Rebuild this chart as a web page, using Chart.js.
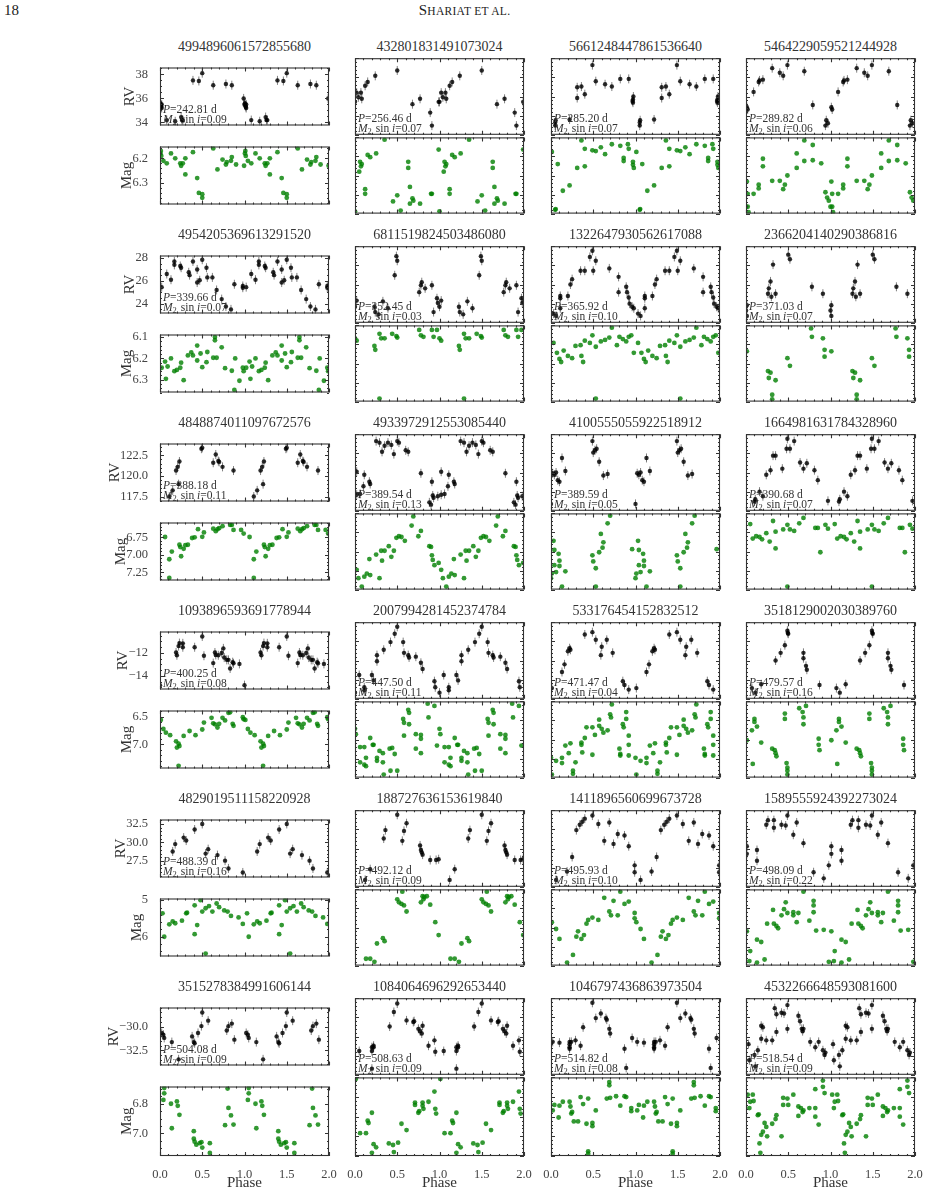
<!DOCTYPE html>
<html><head><meta charset="utf-8">
<script src="https://cdn.jsdelivr.net/npm/chart.js@4.4.1/dist/chart.umd.min.js"></script>
<style>
body{margin:0;background:#fff;width:929px;height:1191px;position:relative;overflow:hidden;font-family:"Liberation Serif","DejaVu Serif",serif;color:#222}
canvas{position:absolute}
.t{position:absolute;font-size:14px;text-align:center;width:200px;color:#333;white-space:nowrap}
</style></head><body>
<div style="position:absolute;left:4px;top:2px;font-size:15px">18</div>
<div style="position:absolute;left:0;width:929px;top:2px;text-align:center;font-size:15px;letter-spacing:0.3px">S<span style="font-size:11.5px">HARIAT ET AL.</span></div>
<script>
// ---------- data: [phase, value]; left column in physical units, other columns in relative height (0-10) ----------
const titles=["4994896061572855680","432801831491073024","5661248447861536640","5464229059521244928",
"4954205369613291520","6811519824503486080","1322647930562617088","2366204140290386816",
"4848874011097672576","4933972912553085440","4100555055922518912","1664981631784328960",
"1093896593691778944","2007994281452374784","533176454152832512","3518129002030389760",
"4829019511158220928","188727636153619840","1411896560699673728","1589555924392273024",
"3515278384991606144","1084064696292653440","1046797436863973504","4532266648593081600"];
const periods=["242.81","256.46","285.20","289.82","339.66","352.45","365.92","371.03","388.18","389.54","389.59","390.68",
"400.25","447.50","471.47","479.57","488.39","492.12","495.93","498.09","504.08","508.63","514.82","518.54"];
const msini=["0.09","0.07","0.07","0.06","0.07","0.03","0.10","0.07","0.11","0.13","0.05","0.07",
"0.08","0.11","0.04","0.16","0.16","0.09","0.10","0.22","0.09","0.09","0.08","0.09"];

const rv1=[[0.0,35.5],[0.005,35.6],[0.01,35.4],[0.02,35.5],[0.015,35.3],[0.02,35.2],[0.08,34.2],[0.18,34.1],[0.25,34.45],[0.26,34.2],[0.27,34.2],[0.39,37.5],[0.46,37.45],[0.5,38.1],[0.63,37.1],[0.78,37.2],[0.85,37.1],[0.99,36.0]];
const mag1=[[0.01,6.17],[0.005,6.18],[0.015,6.19],[0.04,6.21],[0.08,6.22],[0.13,6.18],[0.18,6.2],[0.24,6.22],[0.25,6.23],[0.27,6.22],[0.3,6.2],[0.3,6.265],[0.39,6.175],[0.44,6.28],[0.46,6.34],[0.5,6.345],[0.5,6.36],[0.63,6.16],[0.68,6.245],[0.74,6.205],[0.78,6.225],[0.79,6.215],[0.84,6.21],[0.85,6.195],[0.9,6.225],[0.995,6.23]];
const rv2=[[0.0,4.3],[0.02,5.5],[0.04,4.9],[0.07,5.5],[0.08,4.7],[0.12,6.4],[0.15,6.9],[0.24,7.7],[0.5,8.4],[0.68,4.0],[0.77,4.7],[0.89,2.9],[0.91,1.2],[0.99,4.3]];
const mag2=[[0.0,0.3],[0.06,6.8],[0.07,6.2],[0.05,5.5],[0.08,6.5],[0.12,3.2],[0.12,2.6],[0.15,7.7],[0.18,7.4],[0.25,7.9],[0.35,9.7],[0.45,1.6],[0.5,2.4],[0.54,0.4],[0.63,6.8],[0.63,6.0],[0.65,3.5],[0.68,2.0],[0.69,1.7],[0.65,1.3],[0.77,1.3],[0.9,2.6],[0.91,2.6],[0.99,8.4]];
const rv3=[[0.31,4.8],[0.31,6.2],[0.36,6.3],[0.4,5.3],[0.49,9.1],[0.53,7.0],[0.64,6.6],[0.72,6.3],[0.82,7.3],[0.92,7.3],[0.97,4.2],[0.97,4.6],[0.975,5.0],[0.965,4.4],[0.05,1.2],[0.05,1.6],[0.055,1.9],[0.22,2.0]];
const mag3=[[0.01,8.1],[0.08,6.5],[0.14,3.0],[0.22,3.7],[0.05,0.5],[0.055,0.6],[0.31,6.0],[0.36,9.6],[0.4,6.2],[0.4,8.5],[0.49,8.3],[0.53,8.2],[0.59,8.7],[0.64,7.8],[0.72,9.1],[0.82,8.9],[0.86,7.3],[0.86,6.9],[0.91,9.1],[0.92,8.5],[0.97,6.8],[0.97,6.4],[0.98,6.0]];
const rv4=[[0.01,3.6],[0.02,3.3],[0.09,5.6],[0.15,6.9],[0.16,7.1],[0.2,7.2],[0.31,8.7],[0.4,8.1],[0.44,7.7],[0.49,9.1],[0.69,8.3],[0.79,3.9],[0.94,1.2],[0.95,1.9],[0.97,1.5]];
const mag4=[[0.0,0.9],[0.01,4.2],[0.02,2.6],[0.02,0.9],[0.03,0.2],[0.09,2.6],[0.15,3.8],[0.15,3.3],[0.2,7.2],[0.2,6.2],[0.31,4.3],[0.4,4.3],[0.44,3.2],[0.46,3.8],[0.49,5.0],[0.6,7.9],[0.6,6.0],[0.69,6.9],[0.69,9.6],[0.79,9.0],[0.79,7.0],[0.89,6.6],[0.94,2.8],[0.96,2.1],[0.98,1.7]];
const rv5=[[0.02,25.45],[0.08,26.6],[0.13,26.1],[0.17,27.7],[0.17,27.4],[0.24,27.3],[0.25,27.15],[0.34,26.75],[0.35,26.5],[0.39,27.7],[0.44,27.0],[0.44,25.85],[0.47,26.05],[0.5,27.85],[0.55,27.15],[0.56,26.3],[0.62,26.3],[0.67,25.2],[0.73,24.4],[0.78,23.75],[0.84,23.5],[0.88,25.7],[0.98,25.4],[0.98,25.55]];
const mag5=[[0.02,6.244],[0.06,6.215],[0.07,6.296],[0.09,6.238],[0.13,6.2],[0.17,6.26],[0.2,6.254],[0.24,6.244],[0.25,6.22],[0.28,6.302],[0.33,6.186],[0.37,6.172],[0.39,6.186],[0.44,6.14],[0.44,6.21],[0.48,6.177],[0.5,6.241],[0.55,6.218],[0.56,6.17],[0.63,6.197],[0.65,6.1],[0.65,6.115],[0.67,6.197],[0.73,6.148],[0.77,6.246],[0.85,6.258],[0.88,6.348],[0.89,6.2],[0.94,6.305],[0.98,6.244],[0.99,6.26]];
const rv6=[[0.0,2.1],[0.02,2.9],[0.23,2.1],[0.24,1.4],[0.28,1.1],[0.33,2.8],[0.39,1.9],[0.47,6.2],[0.49,8.7],[0.5,8.1],[0.76,4.0],[0.78,4.9],[0.79,5.3],[0.83,4.5],[0.91,4.9],[0.93,1.4],[0.97,3.2],[0.98,2.6]];
const mag6=[[0.0,8.3],[0.02,8.0],[0.23,7.3],[0.24,6.8],[0.29,8.9],[0.31,8.3],[0.35,8.3],[0.44,8.9],[0.49,8.6],[0.5,8.4],[0.29,0.4],[0.76,9.4],[0.78,8.7],[0.81,8.5],[0.91,9.4],[0.93,8.5],[0.97,9.4]];
const rv7=[[0.11,3.5],[0.2,3.5],[0.23,5.0],[0.25,5.7],[0.35,6.8],[0.4,6.8],[0.46,8.6],[0.49,9.4],[0.5,6.8],[0.53,8.1],[0.69,7.1],[0.8,6.0],[0.8,4.0],[0.89,4.7],[0.9,4.0],[0.92,3.3],[0.93,2.5],[0.96,2.1],[0.98,1.9],[0.03,1.2],[0.06,0.9],[0.11,3.2],[0.11,1.9]];
const mag7=[[0.03,7.7],[0.07,6.4],[0.1,5.6],[0.12,5.2],[0.15,6.7],[0.2,6.0],[0.25,5.7],[0.29,7.3],[0.35,7.4],[0.36,6.0],[0.38,5.2],[0.4,8.0],[0.46,7.7],[0.49,8.7],[0.53,7.2],[0.53,0.4],[0.59,7.9],[0.64,8.1],[0.69,8.4],[0.72,9.7],[0.78,7.4],[0.81,8.5],[0.85,8.2],[0.89,7.9],[0.92,8.5],[0.95,8.7],[0.98,6.4]];
const rv8=[[0.26,3.8],[0.27,4.5],[0.29,5.4],[0.3,3.4],[0.32,7.6],[0.35,3.8],[0.5,8.9],[0.52,8.3],[0.78,4.7],[0.91,3.8],[0.01,2.3],[0.01,0.9],[0.0,1.6]];
const mag8=[[0.01,6.6],[0.26,4.0],[0.29,3.8],[0.27,3.1],[0.35,2.8],[0.31,0.9],[0.31,0.3],[0.49,5.7],[0.52,4.7],[0.77,9.6],[0.78,8.5],[0.91,8.3],[0.93,6.8],[0.93,5.9]];
const rv9=[[0.19,120.65],[0.21,121.1],[0.23,121.75],[0.49,123.3],[0.5,123.4],[0.63,121.6],[0.66,122.6],[0.69,121.8],[0.7,121.7],[0.74,121.1],[0.87,120.65],[0.11,117.5],[0.15,118.25],[0.22,119.0]];
const mag9=[[0.06,6.746],[0.11,7.063],[0.14,6.954],[0.11,7.33],[0.23,6.856],[0.24,6.89],[0.25,7.02],[0.28,6.915],[0.3,6.863],[0.33,6.856],[0.38,6.76],[0.41,6.75],[0.45,6.634],[0.5,6.743],[0.52,6.68],[0.63,6.627],[0.66,6.662],[0.68,6.634],[0.7,6.62],[0.74,6.592],[0.83,6.574],[0.85,6.574],[0.87,6.645],[0.96,6.645],[0.99,6.697]];
const rv10=[[0.02,5.1],[0.11,4.7],[0.17,3.8],[0.18,3.5],[0.25,9.1],[0.29,8.9],[0.32,7.7],[0.35,8.5],[0.39,8.9],[0.43,8.6],[0.46,7.4],[0.5,9.1],[0.52,8.9],[0.6,7.9],[0.63,7.7],[0.78,4.9],[0.88,1.1],[0.9,0.8],[0.91,3.8],[0.92,2.0],[0.93,1.7],[0.98,1.9],[0.02,2.1],[0.06,2.2],[0.1,3.2]];
const mag10=[[0.02,2.6],[0.04,1.5],[0.08,0.4],[0.11,1.7],[0.14,2.1],[0.17,4.0],[0.18,1.9],[0.25,4.6],[0.29,1.5],[0.31,5.1],[0.32,3.8],[0.35,5.1],[0.4,5.7],[0.43,4.3],[0.46,5.1],[0.49,6.8],[0.52,7.0],[0.55,6.9],[0.59,6.4],[0.67,8.4],[0.69,9.6],[0.75,7.0],[0.78,7.7],[0.88,5.7],[0.9,5.6],[0.91,4.5],[0.92,3.9],[0.94,3.2],[0.99,3.5]];
const rv11=[[0.0,0.9],[0.02,4.9],[0.04,4.7],[0.06,5.0],[0.08,4.0],[0.1,3.8],[0.13,6.9],[0.17,5.2],[0.49,9.1],[0.5,7.6],[0.52,7.9],[0.54,8.1],[0.57,6.4],[0.62,4.6],[0.67,4.8]];
const mag11=[[0.0,1.5],[0.01,2.1],[0.03,6.4],[0.04,5.2],[0.04,3.2],[0.06,2.3],[0.09,4.7],[0.1,3.8],[0.1,3.1],[0.13,0.4],[0.17,2.4],[0.49,4.5],[0.5,3.7],[0.53,2.8],[0.53,0.4],[0.57,4.9],[0.59,7.3],[0.61,5.5],[0.62,6.2],[0.67,8.7],[0.7,9.7],[0.96,5.3]];
const rv12=[[0.24,4.7],[0.29,5.3],[0.32,7.2],[0.35,7.2],[0.43,5.5],[0.48,8.1],[0.49,9.4],[0.52,8.1],[0.57,9.1],[0.64,6.3],[0.68,5.5],[0.72,6.2],[0.81,5.3],[0.85,4.0],[0.97,1.3],[0.1,1.2],[0.11,1.5],[0.16,2.5],[0.2,1.9]];
const mag12=[[0.05,8.6],[0.08,6.7],[0.12,7.0],[0.16,6.9],[0.19,6.6],[0.24,7.4],[0.28,6.3],[0.32,9.0],[0.35,5.4],[0.35,7.6],[0.44,7.9],[0.49,8.5],[0.49,0.4],[0.52,7.9],[0.57,7.7],[0.63,8.7],[0.68,9.4],[0.82,8.1],[0.85,8.1],[0.88,4.9],[0.94,8.5],[0.97,8.0]];
const rv13=[[0.19,-11.96],[0.2,-12.2],[0.22,-11.4],[0.23,-11.14],[0.27,-11.16],[0.27,-11.5],[0.41,-11.5],[0.5,-10.56],[0.52,-12.24],[0.63,-12.88],[0.65,-11.96],[0.66,-12.17],[0.69,-12.2],[0.73,-12.0],[0.75,-11.6],[0.76,-12.4],[0.79,-12.6],[0.81,-12.6],[0.83,-13.35],[0.86,-12.8],[0.87,-12.9],[0.94,-12.95],[0.0,-14.8]];
const mag13=[[0.01,6.558],[0.04,6.723],[0.07,6.79],[0.12,6.835],[0.19,6.946],[0.2,7.058],[0.22,6.99],[0.23,7.03],[0.22,7.39],[0.28,6.848],[0.35,6.759],[0.42,6.835],[0.5,6.732],[0.52,6.607],[0.61,6.52],[0.63,6.62],[0.65,6.638],[0.68,6.696],[0.7,6.629],[0.74,6.52],[0.77,6.567],[0.81,6.43],[0.83,6.42],[0.86,6.629],[0.87,6.665],[0.98,6.51],[0.99,6.545]];
const rv14=[[0.26,5.7],[0.26,4.9],[0.34,6.4],[0.42,7.4],[0.47,8.5],[0.5,9.4],[0.57,7.4],[0.58,6.0],[0.63,5.7],[0.64,5.4],[0.72,5.5],[0.78,4.7],[0.8,3.9],[0.94,2.3],[0.95,1.5],[0.0,0.8],[0.05,3.1],[0.11,1.5],[0.11,1.1],[0.2,3.1],[0.22,2.4]];
const mag14=[[0.01,5.7],[0.06,4.0],[0.06,2.0],[0.11,4.0],[0.11,1.7],[0.13,1.5],[0.13,2.6],[0.18,5.2],[0.21,4.3],[0.22,4.3],[0.26,2.6],[0.26,2.2],[0.29,3.5],[0.33,3.2],[0.33,2.0],[0.34,0.4],[0.41,3.8],[0.42,0.9],[0.44,3.9],[0.47,3.1],[0.5,0.9],[0.57,7.7],[0.58,7.2],[0.58,5.5],[0.63,8.9],[0.64,8.5],[0.64,7.0],[0.72,5.7],[0.72,3.8],[0.78,5.6],[0.78,5.1],[0.78,3.2],[0.86,9.7],[0.87,7.9],[0.94,9.4],[0.97,4.2],[0.0,6.4]];
const rv15=[[0.13,3.5],[0.16,4.5],[0.2,6.2],[0.22,6.6],[0.23,6.4],[0.4,8.4],[0.49,8.7],[0.53,7.7],[0.59,5.7],[0.6,6.8],[0.66,7.7],[0.73,6.0],[0.85,2.3],[0.87,1.8],[0.92,1.2],[0.01,1.4]];
const mag15=[[0.0,2.6],[0.01,0.4],[0.06,2.2],[0.13,2.6],[0.13,1.9],[0.17,4.2],[0.21,3.2],[0.23,4.5],[0.26,0.9],[0.26,0.5],[0.29,2.0],[0.36,4.6],[0.36,4.3],[0.37,3.3],[0.4,5.2],[0.42,6.6],[0.49,3.0],[0.49,6.6],[0.52,5.6],[0.57,7.6],[0.57,6.8],[0.6,6.4],[0.62,5.9],[0.67,6.2],[0.7,8.3],[0.71,7.9],[0.72,9.6],[0.81,3.8],[0.82,3.1],[0.82,2.9],[0.85,7.0],[0.86,6.6],[0.89,8.6],[0.89,7.7],[0.92,5.5],[0.92,4.3],[0.92,2.9]];
const rv16=[[0.35,5.0],[0.41,6.0],[0.46,7.0],[0.49,8.9],[0.495,8.6],[0.5,8.5],[0.68,6.0],[0.68,5.3],[0.71,4.3],[0.72,3.8],[0.87,1.8],[0.07,1.4],[0.11,0.8],[0.18,1.9]];
const mag16=[[0.01,4.9],[0.07,6.2],[0.1,7.7],[0.1,7.3],[0.13,6.7],[0.08,1.8],[0.18,4.6],[0.31,3.8],[0.34,3.6],[0.35,3.2],[0.36,2.8],[0.46,8.4],[0.46,7.7],[0.48,1.9],[0.49,1.3],[0.49,0.4],[0.49,0.9],[0.63,9.1],[0.67,8.6],[0.68,7.9],[0.68,7.0],[0.71,9.4],[0.86,5.1],[0.86,4.3],[0.87,3.6]];
const rv17=[[0.15,28.79],[0.18,29.78],[0.28,30.66],[0.31,30.26],[0.41,31.75],[0.5,32.5],[0.54,28.5],[0.57,29.1],[0.68,28.3],[0.77,27.55],[0.81,26.5],[0.98,25.96]];
const mag17=[[0.03,5.36],[0.05,6.0],[0.11,5.66],[0.15,5.58],[0.18,5.63],[0.26,5.56],[0.31,5.36],[0.32,5.34],[0.41,5.14],[0.41,5.93],[0.44,5.68],[0.48,5.0],[0.5,5.31],[0.54,6.46],[0.54,5.22],[0.58,5.16],[0.62,5.31],[0.67,5.09],[0.7,5.19],[0.76,5.28],[0.8,5.31],[0.84,5.43],[0.93,5.47],[0.98,5.65]];
const rv18=[[0.34,6.3],[0.36,7.4],[0.5,9.4],[0.56,6.0],[0.58,7.3],[0.61,8.3],[0.77,5.4],[0.78,4.8],[0.79,4.5],[0.8,4.2],[0.89,3.5],[0.96,3.5],[0.99,3.6],[0.12,0.9],[0.18,2.3]];
const mag18=[[0.13,0.9],[0.18,0.9],[0.23,0.5],[0.26,2.9],[0.33,3.6],[0.35,3.2],[0.5,8.7],[0.52,8.3],[0.56,9.7],[0.55,8.1],[0.58,7.9],[0.61,7.1],[0.78,8.3],[0.8,9.1],[0.81,8.7],[0.82,9.0],[0.85,9.1],[0.89,8.0],[0.95,5.7],[0.99,4.0]];
const rv19=[[0.25,3.9],[0.3,7.4],[0.34,8.1],[0.37,8.5],[0.4,8.9],[0.49,9.3],[0.56,8.2],[0.63,6.0],[0.69,8.4],[0.74,5.6],[0.79,6.9],[0.87,6.7],[0.92,5.3],[0.99,2.8],[0.99,1.9],[0.06,0.9],[0.19,2.0]];
const mag19=[[0.01,5.7],[0.06,4.8],[0.1,3.5],[0.19,0.4],[0.26,1.4],[0.3,3.8],[0.32,4.5],[0.36,3.5],[0.39,4.0],[0.42,5.5],[0.44,6.0],[0.49,6.3],[0.56,6.0],[0.63,8.9],[0.69,7.1],[0.71,6.6],[0.74,8.5],[0.79,6.6],[0.82,9.7],[0.87,8.1],[0.92,8.4],[0.99,6.9],[0.99,6.2]];
const rv20=[[0.01,5.3],[0.01,4.3],[0.13,4.8],[0.13,3.4],[0.24,8.1],[0.26,8.7],[0.33,8.7],[0.33,7.7],[0.42,8.1],[0.47,8.0],[0.49,9.3],[0.56,6.8],[0.6,8.4],[0.68,5.7],[0.8,1.9],[0.92,1.1],[0.98,2.8]];
const mag20=[[0.01,4.5],[0.05,1.9],[0.13,3.4],[0.13,0.4],[0.18,3.1],[0.22,0.8],[0.25,5.5],[0.32,7.3],[0.33,5.5],[0.36,5.2],[0.38,4.9],[0.42,6.6],[0.45,7.4],[0.47,8.3],[0.49,6.9],[0.56,7.0],[0.56,6.6],[0.6,5.7],[0.62,6.9],[0.68,9.7],[0.75,5.9],[0.8,8.5],[0.8,7.9],[0.8,7.0],[0.83,4.6],[0.92,4.7],[0.04,0.6],[0.98,0.5]];
const rv21=[[0.02,-30.68],[0.04,-30.86],[0.05,-31.2],[0.14,-31.64],[0.22,-33.46],[0.38,-31.04],[0.4,-31.64],[0.41,-31.77],[0.45,-30.68],[0.49,-29.95],[0.5,-28.52],[0.57,-29.38],[0.79,-30.42],[0.81,-29.95],[0.85,-29.69],[0.88,-31.38]];
const mag21=[[0.04,6.774],[0.05,6.693],[0.05,6.729],[0.13,6.8],[0.14,6.966],[0.2,6.784],[0.21,6.814],[0.23,6.875],[0.4,6.986],[0.4,7.037],[0.41,7.057],[0.43,7.077],[0.47,7.067],[0.49,7.06],[0.5,7.097],[0.59,7.133],[0.59,7.067],[0.77,6.945],[0.8,6.697],[0.81,6.828],[0.84,6.879],[0.87,6.941]];
const rv22=[[0.22,3.6],[0.41,6.3],[0.46,8.2],[0.5,9.3],[0.61,7.1],[0.69,6.9],[0.7,7.0],[0.75,6.0],[0.77,5.7],[0.79,5.4],[0.8,6.4],[0.87,3.8],[0.94,4.5],[0.95,3.0],[0.05,3.1],[0.2,3.1],[0.2,3.6],[0.22,3.8],[0.2,0.8]];
const mag22=[[0.01,9.8],[0.06,2.9],[0.13,2.9],[0.15,4.5],[0.16,4.2],[0.2,5.5],[0.2,0.4],[0.22,1.5],[0.25,1.1],[0.4,1.6],[0.45,1.4],[0.46,0.5],[0.51,1.7],[0.55,4.1],[0.61,3.3],[0.71,6.8],[0.71,6.5],[0.75,5.5],[0.76,5.7],[0.8,6.8],[0.8,6.4],[0.81,6.0],[0.87,6.9],[0.94,8.2],[0.95,6.0],[0.96,5.4]];
const rv23=[[0.02,4.3],[0.1,4.2],[0.22,4.0],[0.22,3.4],[0.22,3.6],[0.22,4.3],[0.24,4.3],[0.29,4.5],[0.35,3.8],[0.38,6.2],[0.49,9.4],[0.53,7.4],[0.59,8.0],[0.65,7.4],[0.66,7.2],[0.69,6.0],[0.7,5.4],[0.87,3.4],[0.89,0.9],[0.96,4.8]];
const mag23=[[0.02,5.8],[0.04,6.5],[0.09,4.9],[0.1,6.4],[0.14,6.9],[0.22,6.9],[0.23,6.3],[0.24,5.4],[0.25,5.6],[0.27,4.4],[0.32,4.4],[0.35,7.5],[0.38,6.6],[0.42,4.1],[0.44,7.3],[0.44,0.6],[0.44,0.3],[0.49,4.2],[0.49,3.8],[0.53,5.8],[0.69,9.4],[0.69,9.0],[0.66,7.3],[0.7,7.4],[0.77,7.6],[0.82,6.4],[0.87,7.6],[0.89,7.5],[0.95,6.1],[0.95,5.7]];
const rv24=[[0.03,4.0],[0.04,1.9],[0.1,2.6],[0.11,1.1],[0.14,3.2],[0.18,6.4],[0.2,6.2],[0.18,4.7],[0.24,4.5],[0.31,4.5],[0.36,5.6],[0.34,8.7],[0.36,7.9],[0.42,8.1],[0.45,8.0],[0.49,9.1],[0.49,6.0],[0.62,7.7],[0.64,7.0],[0.66,6.0],[0.67,5.7],[0.68,6.0],[0.76,4.3],[0.82,3.6],[0.86,4.3],[0.91,3.2],[0.93,2.6],[0.94,2.9]];
const mag24=[[0.02,7.8],[0.05,6.9],[0.08,7.8],[0.09,7.0],[0.15,5.3],[0.16,1.6],[0.17,0.4],[0.18,2.7],[0.2,3.1],[0.22,4.2],[0.24,3.7],[0.25,2.5],[0.31,4.1],[0.35,4.7],[0.36,5.2],[0.42,2.5],[0.44,7.4],[0.44,6.5],[0.49,7.3],[0.5,6.5],[0.56,7.8],[0.62,6.3],[0.62,5.1],[0.65,6.1],[0.67,5.6],[0.68,5.8],[0.75,6.1],[0.82,8.5],[0.82,6.1],[0.82,5.0],[0.86,4.0],[0.91,8.8],[0.93,8.0],[0.91,9.6],[0.04,6.1],[0.14,5.2]];

// left-column axis ranges [min, max, majorStep, minorStep, decimals]
const rvAxes=[[33.75,38.57,2,0.5,0],[23.14,28.22,2,0.5,0],[116.9,123.93,2.5,0.5,1],[-15.18,-10.13,2,0.5,0],[25.28,33.1,2.5,0.5,1],[-34.11,-27.99,2.5,0.5,1]];
const magAxes=[[6.152,6.387,0.1,0.02,1],[6.088,6.36,0.1,0.02,1],[6.539,7.366,0.25,0.05,2],[6.388,7.4375,0.5,0.1,1],[4.953,6.54,1,0.2,0],[6.683,7.154,0.2,0.05,1]];
const xTicks=[0,0.5,1,1.5,2];

const RVS=[rv1,rv2,rv3,rv4,rv5,rv6,rv7,rv8,rv9,rv10,rv11,rv12,rv13,rv14,rv15,rv16,rv17,rv18,rv19,rv20,rv21,rv22,rv23,rv24];
const MAGS=[mag1,mag2,mag3,mag4,mag5,mag6,mag7,mag8,mag9,mag10,mag11,mag12,mag13,mag14,mag15,mag16,mag17,mag18,mag19,mag20,mag21,mag22,mag23,mag24];

// ---------- layout ----------
const colX=[160,355,551,746], PW=169, PH=79, rowY=[58,246,434,622,810,998];
const LM=60, FONT='"Liberation Serif","DejaVu Serif",serif', TF='12.5px '+FONT;
const fmt=(v,d)=>{const s=Math.abs(v).toFixed(d);return (v<-1e-9?'\u2212':'')+s;};

const framePlugin={id:'frame',
 beforeDatasetsDraw(chart){
   const o=chart.options.plugins.frame; if(!o.err) return;
   const ctx=chart.ctx, ca=chart.chartArea; ctx.save();
   ctx.beginPath(); ctx.rect(ca.left,ca.top,ca.right-ca.left,ca.bottom-ca.top); ctx.clip();
   ctx.strokeStyle='rgba(60,60,60,0.65)'; ctx.lineWidth=1;
   chart.getDatasetMeta(0).data.forEach(p=>{ctx.beginPath();ctx.moveTo(p.x,p.y-4.5);ctx.lineTo(p.x,p.y+4.5);ctx.stroke();});
   ctx.restore();
 },
 afterDraw(chart){
   const o=chart.options.plugins.frame, ctx=chart.ctx, ca=chart.chartArea, xs=chart.scales.x, ys=chart.scales.y;
   ctx.save(); ctx.strokeStyle='#333'; ctx.lineWidth=1.1;
   ctx.strokeRect(ca.left+0.5,ca.top+0.5,ca.right-ca.left-1,ca.bottom-ca.top-1);
   ctx.beginPath();
   for(let k=0;k<=20;k++){const v=k*0.1, px=Math.round(xs.getPixelForValue(v))+0.5, L=(k%5===0)?4:2;
     ctx.moveTo(px,ca.bottom);ctx.lineTo(px,ca.bottom-L);ctx.moveTo(px,ca.top);ctx.lineTo(px,ca.top+L);}
   const mn=Math.min(ys.min,ys.max), mx=Math.max(ys.min,ys.max);
   for(let k=Math.ceil(mn/o.yMinor-1e-6);k*o.yMinor<=mx+1e-9;k++){const v=k*o.yMinor;
     const r=v/o.yMajor, maj=Math.abs(r-Math.round(r))<1e-6, L=maj?4:2, py=Math.round(ys.getPixelForValue(v))+0.5;
     ctx.moveTo(ca.left,py);ctx.lineTo(ca.left+L,py);ctx.moveTo(ca.right,py);ctx.lineTo(ca.right-L,py);}
   ctx.stroke();
   ctx.fillStyle='#333';
   if(o.ylabel){
     ctx.font=TF; let mw=0; ys.ticks.forEach(t=>{mw=Math.max(mw,ctx.measureText(t.label||'').width);});
     ctx.save();ctx.translate(ca.left-4-mw-13,(ca.top+ca.bottom)/2);ctx.rotate(-Math.PI/2);
     ctx.font='15px '+FONT;ctx.textAlign='center';ctx.textBaseline='middle';ctx.fillText(o.ylabel,0,0);ctx.restore();}
   if(o.xlabel){ctx.font='15px '+FONT;ctx.textAlign='center';ctx.textBaseline='alphabetic';ctx.fillText('Phase',(ca.left+ca.right)/2,ca.bottom+31);}
   if(o.ann){
     ctx.textAlign='left';ctx.textBaseline='alphabetic';
     const seg=(parts,x,y)=>{parts.forEach(([t,f])=>{ctx.font=f;ctx.fillText(t,x,y);x+=ctx.measureText(t).width;});};
     const R='11.5px '+FONT, I='italic 11.5px '+FONT, S='8.5px '+FONT;
     const x0=ca.left+3;
     seg([['P',I],['=',R],[o.ann[0]+' d',R]],x0,ca.bottom-13);
     ctx.font=I; let x=x0; ctx.fillText('M',x,ca.bottom-3); x+=ctx.measureText('M').width;
     ctx.font=S; ctx.fillText('2',x,ca.bottom-0.5); x+=ctx.measureText('2').width;
     seg([[' sin ',R],['i',I],['=',R],[o.ann[1],R]],x+1,ca.bottom-3);
   }
   ctx.restore();
 }};

function mk(left,top,data,ax,isMag,isLeft,bottom,color,ann){
  const R=bottom?14:6, XH=bottom?38:0;
  const c=document.createElement('canvas');
  const w=PW+LM+R, h=PH+2+XH;
  c.width=w;c.height=h;c.style.left=(left-LM)+'px';c.style.top=(top-2)+'px';c.style.width=w+'px';c.style.height=h+'px';
  document.body.appendChild(c);
  const pts=data.flatMap(([p,v])=>[{x:p,y:v},{x:p+1,y:v}]);
  const [ymin,ymax,ymaj,ymin2,dec]=ax;
  new Chart(c,{type:'scatter',
    data:{datasets:[{data:pts,backgroundColor:color,borderWidth:0,pointRadius:isMag?2.4:2.2,pointHoverRadius:0,clip:0}]},
    options:{animation:false,responsive:false,devicePixelRatio:1,events:[],
      layout:{padding:{top:2,right:R,left:0,bottom:0}},
      plugins:{legend:{display:false},tooltip:{enabled:false},
        frame:{yMajor:ymaj,yMinor:ymin2,err:!isMag,ylabel:isLeft?(isMag?'Mag':'RV'):null,xlabel:bottom,ann:ann}},
      scales:{
        x:{type:'linear',min:0,max:2,grid:{display:false},border:{display:false},
           ticks:{display:bottom,font:{family:FONT,size:12.5},color:'#444',padding:3,maxRotation:0,callback:v=>v.toFixed(1)},
           afterBuildTicks:s=>{s.ticks=xTicks.map(v=>({value:v}));},
           afterFit:s=>{s.height=XH;}},
        y:{type:'linear',min:ymin,max:ymax,reverse:isMag&&isLeft,grid:{display:false},border:{display:false},
           ticks:{display:isLeft,font:{family:FONT,size:12.5},color:'#444',padding:4,callback:v=>fmt(v,dec)},
           afterBuildTicks:s=>{const t=[];for(let k=Math.ceil(ymin/ymaj-1e-6);k*ymaj<=ymax+1e-9;k++)t.push({value:k*ymaj});s.ticks=t;},
           afterFit:s=>{s.width=LM;}}
      }},
    plugins:[framePlugin]});
}

const relAx=[0,10,2.5,0.5,0];
for(let i=0;i<24;i++){
  const r=Math.floor(i/4), col=i%4, x=colX[col], y=rowY[r], isLeft=col===0, bottom=r===5;
  const t=document.createElement('div');t.className='t';t.textContent=titles[i];
  t.style.left=(x+PW/2-100)+'px';t.style.top=(y-19)+'px';document.body.appendChild(t);
  mk(x,y,RVS[i],isLeft?rvAxes[r]:relAx,false,isLeft,false,'rgba(0,0,0,0.82)',[periods[i],msini[i]]);
  mk(x,y+PH,MAGS[i],isLeft?magAxes[r]:relAx,true,isLeft,bottom,'rgba(0,128,0,0.8)',null);
}
</script>
</body></html>
